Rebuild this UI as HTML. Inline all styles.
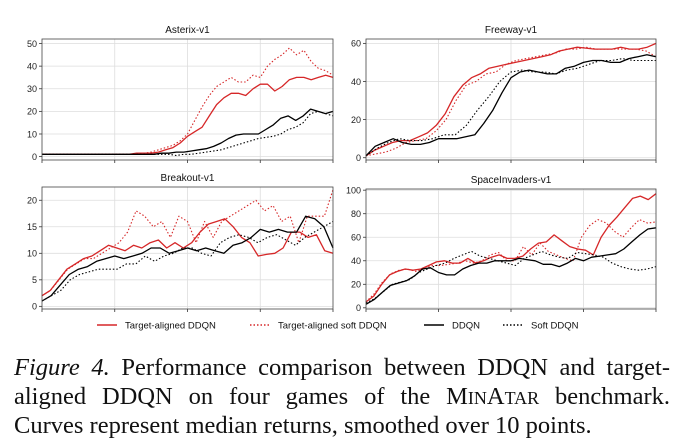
<!DOCTYPE html>
<html><head><meta charset="utf-8"><style>
body{margin:0;background:#fff;width:684px;height:448px;overflow:hidden;position:relative}
svg{position:absolute;left:0;top:0}
.cap{position:absolute;left:14px;width:656px;font-family:"Liberation Serif",serif;font-size:24.5px;line-height:28.5px;top:354px;color:#111}
.cap div{text-align:justify;text-align-last:justify;white-space:nowrap}
.cap div.l{text-align-last:left}
</style></head><body>
<svg id="chart" width="684" height="345"></svg>
<div class="cap"><div><i>Figure 4.</i> Performance comparison between DDQN and target-</div><div>aligned DDQN on four games of the M<span style="font-size:18px">IN</span>A<span style="font-size:18px">TAR</span> benchmark.</div><div class="l">Curves represent median returns, smoothed over 10 points.</div></div>
<script>
const titles=["Asterix-v1","Freeway-v1","Breakout-v1","SpaceInvaders-v1"];
const yTicks=[[0,10,20,30,40,50],[0,20,40,60],[0,5,10,15,20],[0,20,40,60,80,100]];
const yMax=[52,62.3,22.5,101];
const yMin=[-1.5,-1.2,-0.5,-1];
const asterixTA=[1,1,1,1,1,1,1,1,1,1,1,1,1,1.5,1.5,1.5,2,3,4,6,9,11,13,18,23,26,28,28,27,30,32,32,29,31,34,35,35,34,35,36,35];
const asterixTAsoft=[1,1,1,1,1,1,1,1,1,1,1,1,1,1,1.5,2,3,4,5,7,10,16,22,27,31,33,35,33,33,36,35,40,43,45,48,45,47,42,39,38,36];
const asterixDDQN=[1,1,1,1,1,1,1,1,1,1,1,1,1,1,1,1,1.5,1.5,2,2,2.5,3,3.5,4.5,6,8,9.5,10,10,10,12,14,17,18,16,18,21,20,19,20];
const asterixSoft=[1,1,1,1,1,1,1,1,1,1,1,1,1,1,1,1,1,1,0.5,1,1,1.5,2,2.5,3,4,5,6,7,8,8.5,9,10,12,13,15,19,20,19,18];
const freewayTA=[1,4,6,8,9,9,11,13,17,23,32,38,42,44,47,48,49,50,51,52,53,54,56,57,58,57.5,57,57,57,58,57,57,58,60];
const freewayTAsoft=[1,2,3,5,8,9,10,14,20,30,38,40,44,45,49,51,52,53,54,55,57,57,58,57,57,57,57,57,56,53];
const freewayDDQN=[1,6,8,10,8,7,7,8,10,10,10,11,12,18,25,34,42,45,46,45,44,44,47,48,50,51,51,50,50,52,53,54,53];
const freewaySoft=[1,5,8,10,9,9,10,12,12,17,25,32,40,45,46,45,45,44,46,47,49,51,51,52,51,51,51];
const breakoutTA=[2,3,5,7,8,9,9.5,10.5,11.5,11,10.5,11.5,11,12,12.5,11,12,11,12,14,15.5,16,16.5,15,13,12,9.5,9.8,10,11,14,14,13,13.5,10.5,10];
const breakoutTAsoft=[2,3,5,7,8,9,9,10,11,12,14,18,17,15,16,13,17,16,12,16,13,16,17,18,19,20,18,19,16,17,12,17,17,17,22];
const breakoutDDQN=[1,2,4,6,7,7.5,8.5,9,9.5,9,9.5,10,11,11,10,10.5,11,10.5,11,10.5,10,11.5,12,13,14.5,14,14.5,14,14,17,16.5,15,11];
const breakoutSoft=[1,2,3,5,6,6.5,7,7,7,8,8,9.5,8.5,9.5,10,11,11,10,9.5,12,13,13.5,13,12,13,13.5,12.5,11.5,13,14,15,16];
const spaceTA=[5,10,20,28,31,33,32,33,36,39,40,38,38,42,38,40,43,45,42,42,44,50,55,56,62,57,52,50,49,45,60,70,77,85,93,95,92,97];
const spaceTAsoft=[5,12,22,29,32,33,31,33,36,36,37,38,40,38,40,45,47,40,40,52,45,55,48,45,42,40,60,70,75,72,65,60,68,75,72,73];
const spaceDDQN=[3,7,13,19,21,23,27,33,34,30,28,28,33,36,38,38,40,40,40,42,41,40,37,37,35,38,42,40,43,44,45,46,50,56,62,67,68];
const spaceSoft=[4,8,14,20,22,24,30,33,36,38,42,45,48,44,42,40,38,36,42,45,48,45,43,42,47,46,45,43,38,35,33,32,33,35];
const seriesNames=["Target-aligned DDQN","Target-aligned soft DDQN","DDQN","Soft DDQN"];
const data=[[asterixTA,asterixTAsoft,asterixDDQN,asterixSoft],[freewayTA,freewayTAsoft,freewayDDQN,freewaySoft],[breakoutTA,breakoutTAsoft,breakoutDDQN,breakoutSoft],[spaceTA,spaceTAsoft,spaceDDQN,spaceSoft]];
const styles=[{c:"#d62728",d:""},{c:"#d62728",d:"1.5,2"},{c:"#000",d:""},{c:"#000",d:"1.5,2"}];
const boxes=[[42,39,333,160],[366,39,656,160],[42,187,333,309],[366,189,656,309]];
const NS="http://www.w3.org/2000/svg";
const svg=document.getElementById("chart");
const FONT="Liberation Sans, DejaVu Sans, sans-serif";
function mk(t,a,p){const e=document.createElementNS(NS,t);for(const k in a)e.setAttribute(k,a[k]);(p||svg).appendChild(e);return e;}
boxes.forEach((b,i)=>{
  const [x0,y0,x1,y1]=b;
  const g=mk("g",{});
  
  
  const X=t=>x0+t*(x1-x0);
  const Y=v=>y1-(v-yMin[i])/(yMax[i]-yMin[i])*(y1-y0);
  for(let k=1;k<4;k++)mk("line",{x1:X(k/4),x2:X(k/4),y1:y0,y2:y1,stroke:"#ddd","stroke-width":0.8},g);
  yTicks[i].forEach(v=>{
    mk("line",{x1:x0,x2:x1,y1:Y(v),y2:Y(v),stroke:"#ddd","stroke-width":0.8},g);
    mk("line",{x1:x0-3,x2:x0,y1:Y(v),y2:Y(v),stroke:"#333","stroke-width":0.8},g);
    const t=mk("text",{x:x0-5,y:Y(v)+3.3,"text-anchor":"end","font-size":"9","font-family":FONT,fill:"#222"},g);
    
    
    t.textContent=v;
  });
  for(let k=0;k<=4;k++)mk("line",{x1:X(k/4),x2:X(k/4),y1:y1,y2:y1+3,stroke:"#333","stroke-width":0.8},g);
  const tt=mk("text",{x:(x0+x1)/2,y:y0-6,"text-anchor":"middle","font-size":"10","font-family":FONT,fill:"#111"},g);
  
  
  tt.textContent=titles[i];
  data[i].forEach((s,j)=>{
    const pts=s.map((v,k)=>X(k/(s.length-1)).toFixed(1)+","+Y(v).toFixed(1)).join(" ");
    const pl=mk("polyline",{points:pts,fill:"none",stroke:styles[j].c,"stroke-width":j%2?1.1:1.3,"stroke-dasharray":styles[j].d,"stroke-linejoin":"round"},g);
    
    
  });
  mk("rect",{x:x0,y:y0,width:x1-x0,height:y1-y0,fill:"none",stroke:"#444","stroke-width":0.8},g);
});
const legX=[97,250,424,503];
const lg=mk("g",{});


seriesNames.forEach((n,j)=>{
  const e=mk("g",{},lg);
  
  
  mk("line",{x1:legX[j],x2:legX[j]+20,y1:325,y2:325,stroke:j>1?"#000":"#d62728","stroke-width":1.4,"stroke-dasharray":styles[j].d},e);
  const t=mk("text",{x:legX[j]+28,y:328.5,"font-size":"9.5","font-family":FONT,fill:"#111"},e);
  t.textContent=n;
});
</script>
</body></html>
